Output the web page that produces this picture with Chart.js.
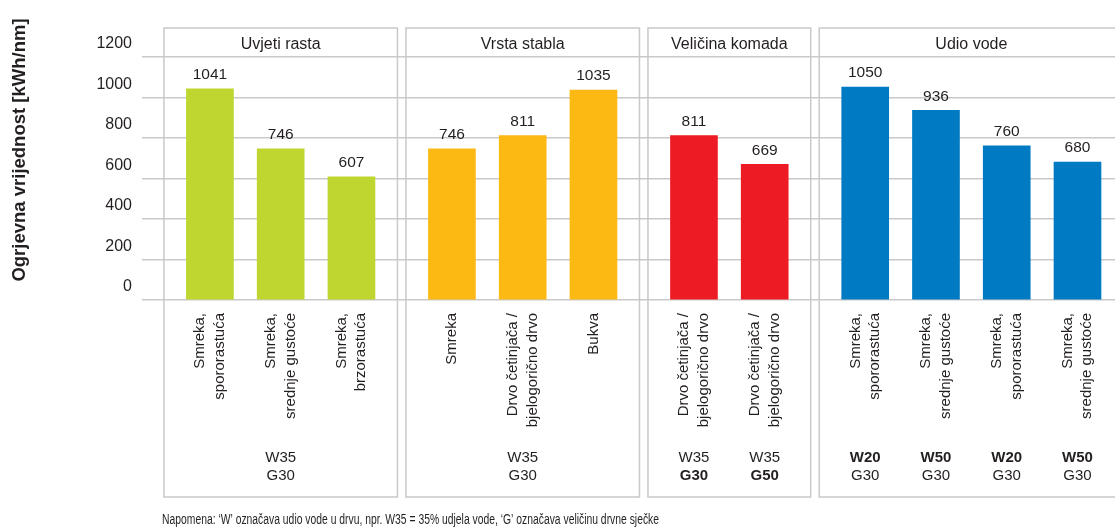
<!DOCTYPE html>
<html>
<head>
<meta charset="utf-8">
<script src="https://cdn.jsdelivr.net/npm/chart.js@4.4.1/dist/chart.umd.min.js"></script>
<style>
  html, body { margin: 0; padding: 0; background: #fff; }
  #wrap { width: 1115px; height: 529px; }
</style>
</head>
<body>
<div id="wrap"><canvas id="heatChart" width="1115" height="529"></canvas></div>
<script>
// ==================== DATA ====================
const groupTitles = ["Uvjeti rasta", "Vrsta stabla", "Veličina komada", "Udio vode"];

const growthLabels = [["Smreka,", "spororastuća"], ["Smreka,", "srednje gustoće"], ["Smreka,", "brzorastuća"]];
const growthValues = [1041, 746, 607];
const growthNotes = [["W35", "G30"]];

const speciesLabels = ["Smreka", ["Drvo četinjača /", "bjelogorično drvo"], "Bukva"];
const speciesValues = [746, 811, 1035];
const speciesNotes = [["W35", "G30"]];

const sizeLabels = [["Drvo četinjača /", "bjelogorično drvo"], ["Drvo četinjača /", "bjelogorično drvo"]];
const sizeValues = [811, 669];
const sizeNotes = [["W35", "G30"], ["W35", "G50"]];

const waterLabels = [["Smreka,", "spororastuća"], ["Smreka,", "srednje gustoće"], ["Smreka,", "spororastuća"], ["Smreka,", "srednje gustoće"]];
const waterValues = [1050, 936, 760, 680];
const waterNotes = [["W20", "G30"], ["W50", "G30"], ["W20", "G30"], ["W50", "G30"]];

const yTicks = [0, 200, 400, 600, 800, 1000, 1200];
const yTitle = "Ogrjevna vrijednost [kWh/nm]";
const footNote = "Napomena: ‘W’ označava udio vode u drvu, npr. W35 = 35% udjela vode, ‘G’ označava veličinu drvne sječke";

// ==================== STYLE ====================
const FONT = "'Liberation Sans', Arial, sans-serif";
const INK = "#231f20";
const LINE = "#c9c9c9";
const LINE_H = 19.5;
const PLOT_LEFT = 142;
const PLOT_RIGHT = 1115;

// min/max = visible range of each panel axis in bar slots, boldLine = which note row is bold
const panels = [
  { title: groupTitles[0], labels: growthLabels, values: growthValues, notes: growthNotes, color: "#bed62f", boldLine: -1, min: -0.96, max: 2.71 },
  { title: groupTitles[1], labels: speciesLabels, values: speciesValues, notes: speciesNotes, color: "#fdb913", boldLine: -1, min: -0.71, max: 2.71 },
  { title: groupTitles[2], labels: sizeLabels, values: sizeValues, notes: sizeNotes, color: "#ed1c24", boldLine: 1, min: -0.71, max: 1.71 },
  { title: groupTitles[3], labels: waterLabels, values: waterValues, notes: waterNotes, color: "#007ac2", boldLine: 0, min: -0.71, max: 3.53 }
];
// pixels per bar slot, so one-line labels can be nudged back onto their bar
const SLOT = (PLOT_RIGHT - PLOT_LEFT) / panels.reduce((s, p) => s + p.max - p.min, 0);

// ==================== SCALES ====================
const scales = {
  y: {
    min: 0,
    max: 1200,
    afterBuildTicks: s => { s.ticks = yTicks.map(v => ({ value: v })); },
    afterFit: s => { s.width = PLOT_LEFT; },
    ticks: { padding: 10, labelOffset: -13, color: INK, font: { family: FONT, size: 16 }, callback: v => String(v) },
    grid: { color: LINE, lineWidth: 1.5, drawTicks: false },
    border: { display: false }
  }
};
panels.forEach((p, k) => {
  scales["x" + k] = {
    type: "linear",
    position: "bottom",
    stack: "groups",
    stackWeight: p.max - p.min,
    min: p.min,
    max: p.max,
    offset: false,
    afterBuildTicks: s => {
      s.ticks = p.labels.map((lab, i) => ({ value: Array.isArray(lab) ? i : i + LINE_H / 2 / SLOT }));
    },
    afterFit: s => { s.height = 529 - 300; s.paddingLeft = 0; s.paddingRight = 0; },
    grid: { display: false, drawTicks: false },
    border: { display: false },
    ticks: {
      autoSkip: false,
      minRotation: 90,
      maxRotation: 90,
      padding: 13,
      labelOffset: -LINE_H / 2,
      color: INK,
      font: { family: FONT, size: 15, lineHeight: LINE_H / 15 },
      callback: (v, i) => p.labels[i]
    }
  };
});

// ==================== PANEL DECORATION ====================
const panelDecor = {
  id: "panelDecor",
  afterDraw(chart) {
    const ctx = chart.ctx;
    ctx.save();

    panels.forEach((p, k) => {
      const xs = chart.scales["x" + k];
      const n = p.values.length;
      const left = xs.getPixelForValue(-0.65);
      const right = xs.getPixelForValue(n - 1 + 0.65);

      // box
      ctx.strokeStyle = LINE;
      ctx.lineWidth = 1.5;
      ctx.strokeRect(left, 28, right - left, 469);

      // header
      ctx.fillStyle = INK;
      ctx.font = "16px " + FONT;
      ctx.textAlign = "center";
      ctx.textBaseline = "middle";
      ctx.fillText(p.title, (left + right) / 2, 44.5);

      // value labels
      ctx.font = "15.5px " + FONT;
      chart.getDatasetMeta(k).data.forEach((bar, i) => {
        ctx.fillText(String(p.values[i]), bar.x, bar.y - 14);
      });

      // W / G notes
      p.notes.forEach((lines, j) => {
        const idx = p.notes.length === 1 ? (n - 1) / 2 : j;
        const x = xs.getPixelForValue(idx);
        lines.forEach((t, r) => {
          ctx.font = (r === p.boldLine ? "bold " : "") + "15px " + FONT;
          ctx.fillText(t, x, 458 + r * 18);
        });
      });
    });

    // y title
    ctx.save();
    ctx.translate(20, 150);
    ctx.rotate(-Math.PI / 2);
    ctx.font = "bold 18.5px " + FONT;
    ctx.fillStyle = INK;
    ctx.textAlign = "center";
    ctx.textBaseline = "middle";
    ctx.fillText(yTitle, 0, 0);
    ctx.restore();

    // footnote: condensed type, squeezed to the width it has in the original
    ctx.save();
    ctx.font = "14px " + FONT;
    const squeeze = 497 / ctx.measureText(footNote).width;
    ctx.translate(162, 520);
    ctx.scale(squeeze, 1);
    ctx.fillStyle = INK;
    ctx.textAlign = "left";
    ctx.textBaseline = "middle";
    ctx.fillText(footNote, 0, 0);
    ctx.restore();

    ctx.restore();
  }
};

// ==================== CHART ====================
new Chart(document.getElementById("heatChart"), {
  type: "bar",
  data: {
    datasets: panels.map((p, k) => ({
      data: p.values.map((v, i) => ({ x: i, y: v })),
      xAxisID: "x" + k,
      yAxisID: "y",
      backgroundColor: p.color,
      grouped: false,
      barThickness: 47
    }))
  },
  options: {
    responsive: false,
    animation: false,
    layout: { padding: { top: 56.7, left: 0, right: 0, bottom: 0 } },
    plugins: { legend: { display: false }, tooltip: { enabled: false } },
    scales: scales
  },
  plugins: [panelDecor]
});
</script>
</body>
</html>
